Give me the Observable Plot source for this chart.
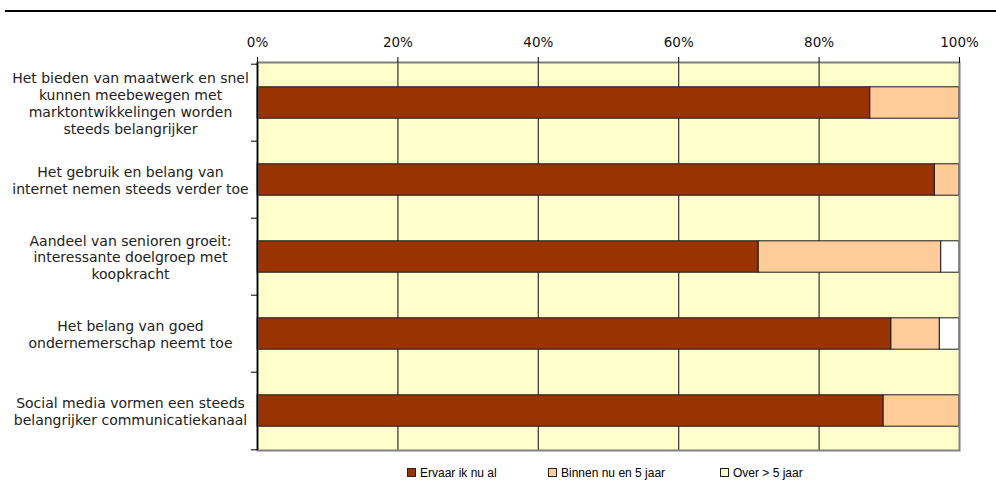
<!DOCTYPE html>
<html><head><meta charset="utf-8">
<script src="https://cdn.jsdelivr.net/npm/d3@7"></script>
<script src="https://cdn.jsdelivr.net/npm/@observablehq/plot@0.6"></script>
<style>
body{margin:0;background:#fff;}
#wrap{position:relative;width:996px;height:485px;overflow:hidden;}
#topline{position:absolute;left:5px;right:0;top:10px;border-top:2px solid #000;}
#chart{position:absolute;left:0;top:0;}
#legend{position:absolute;top:465px;left:0;width:996px;height:16px;font-family:"Liberation Sans",Arial,sans-serif;font-size:12px;color:#000;}
.item{position:absolute;top:0;white-space:nowrap;line-height:16px;}
.sw{display:inline-block;width:7px;height:7px;border:1px solid #222;margin-right:4px;vertical-align:0px;}
</style></head>
<body>
<div id="wrap"><div id="topline"></div><div id="chart"></div><div id="legend"></div></div>
<script>
const categories = [
  "Het bieden van maatwerk en snel\nkunnen meebewegen met\nmarktontwikkelingen worden\nsteeds belangrijker",
  "Het gebruik en belang van\ninternet nemen steeds verder toe",
  "Aandeel van senioren groeit:\ninteressante doelgroep met\nkoopkracht",
  "Het belang van goed\nondernemerschap neemt toe",
  "Social media vormen een steeds\nbelangrijker communicatiekanaal"
];
const series = ["Ervaar ik nu al", "Binnen nu en 5 jaar", "Over > 5 jaar"];
const ervaar = [87.3, 96.5, 71.4, 90.3, 89.2];
const binnen = [12.7, 3.5, 26.0, 6.9, 10.8];
const over = [0, 0, 2.6, 2.8, 0];
const xTicks = [0, 20, 40, 60, 80, 100];
const gridTicks = [20, 40, 60, 80];
const barColors = ["#993300", "#FFCC99", "#FFFFFF"];
const legendColors = ["#993300", "#FFCC99", "#FFFFCC"];

const values = [ervaar, binnen, over];
const data = [];
categories.forEach((c, i) => series.forEach((s, j) => data.push({cat: c, series: s, value: values[j][i]})));

const W = 996, H = 458, mt = 62, mb = 8, ml = 257, mr = 37;
const bw = (H - mt - mb) / categories.length;
const barH = 32;
const inset = (bw - barH) / 2;

const chart = Plot.plot({
  width: W, height: H,
  marginTop: mt, marginBottom: mb, marginLeft: ml, marginRight: mr,
  style: {fontFamily: "DejaVu Sans, Verdana, sans-serif", fontSize: "13px", color: "#222", background: "transparent"},
  x: {domain: [0, 100], axis: null},
  y: {domain: categories, padding: 0, axis: null},
  color: {domain: series, range: barColors},
  marks: [
    Plot.frame({fill: "#FFFFCC"}),
    Plot.ruleX(gridTicks, {stroke: "#333", strokeWidth: 1.2}),
    Plot.barX(data, Plot.stackX({y: "cat", x: "value", fill: "series", stroke: "#1a1a1a", strokeWidth: 1, insetTop: inset, insetBottom: inset})),
    Plot.frame({stroke: "#808080", strokeWidth: 2}),
    Plot.ruleX([0], {stroke: "#000", strokeWidth: 1.5}),
    Plot.axisX({anchor: "top", ticks: xTicks, tickFormat: d => d + "%", tickSize: 6, tickPadding: 10, fontSize: 13.5, label: null, stroke: "#000", fill: "#111"}),
    Plot.axisY({tickSize: 6, tickFormat: () => "", dy: -bw / 2, label: null, stroke: "#000"}),
    Plot.axisY([categories[categories.length - 1]], {tickSize: 6, tickFormat: () => "", dy: bw / 2, label: null, stroke: "#000"}),
    Plot.axisY({tickSize: 0, tickPadding: 0, textAnchor: "middle", dx: -127, fontSize: 14, lineHeight: 1.2, label: null, fill: "#222"})
  ]
});
document.getElementById("chart").appendChild(chart);

const legend = document.getElementById("legend");
const lefts = [407, 548, 720];
series.forEach((s, i) => {
  const it = document.createElement("div");
  it.className = "item";
  it.style.left = lefts[i] + "px";
  const sw = document.createElement("span");
  sw.className = "sw";
  sw.style.background = legendColors[i];
  it.appendChild(sw);
  it.appendChild(document.createTextNode(s));
  legend.appendChild(it);
});
</script>
</body></html>
